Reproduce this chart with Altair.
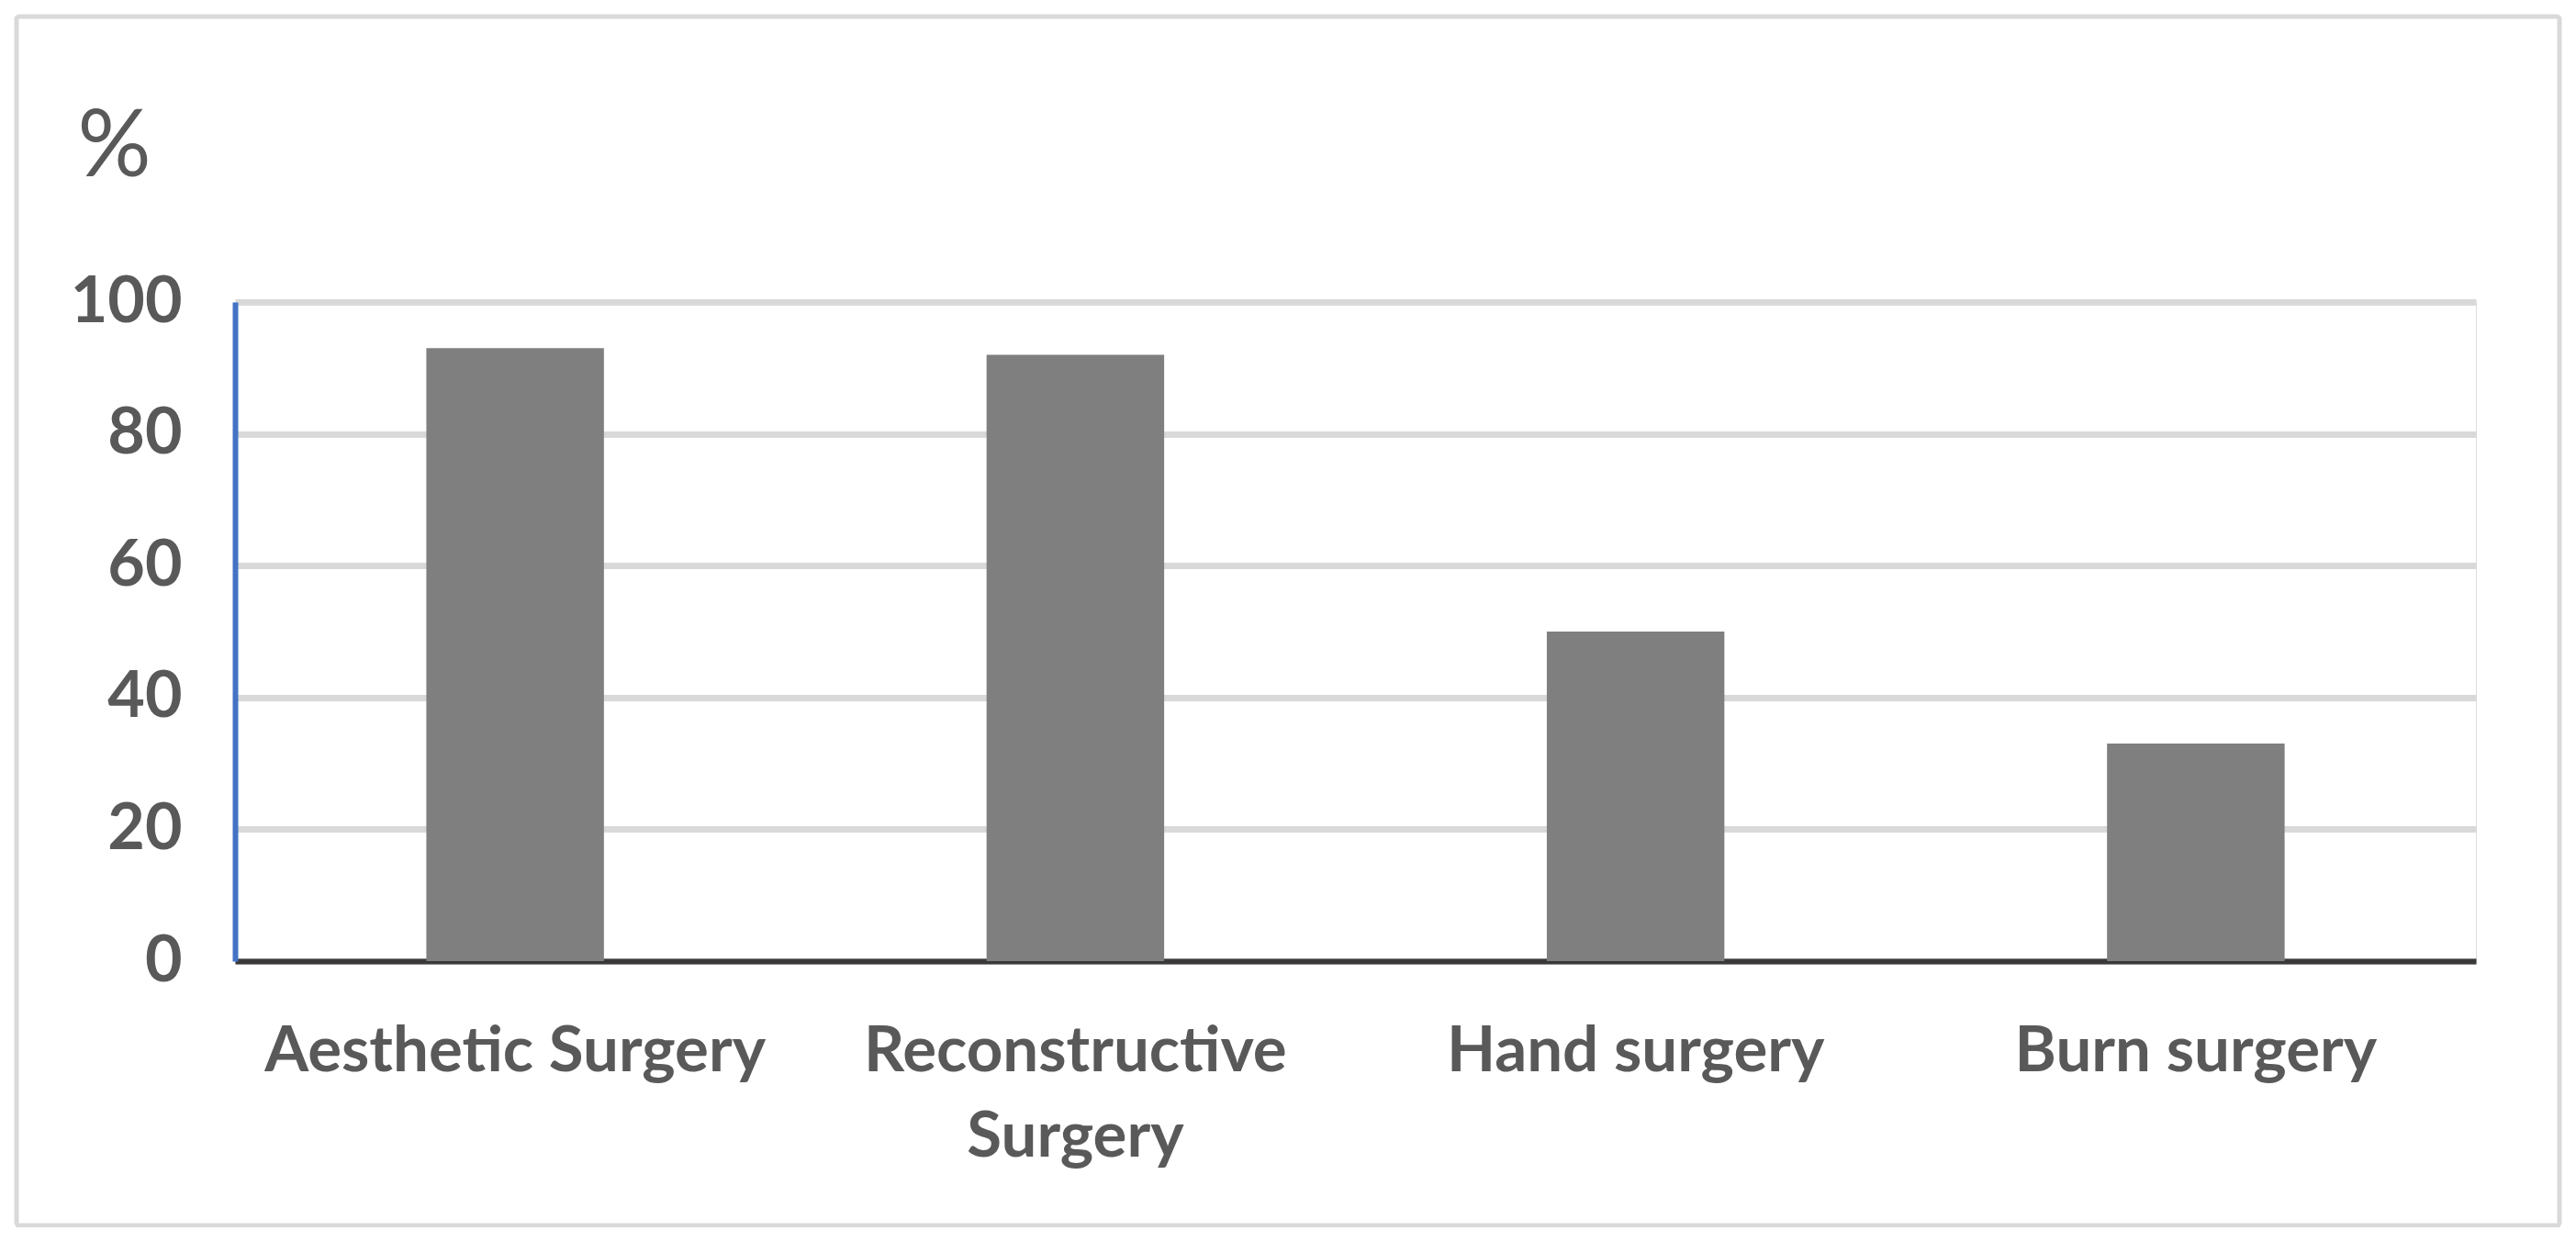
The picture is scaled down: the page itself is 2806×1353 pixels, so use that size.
import altair as alt
import pandas as pd

categories = ["Aesthetic Surgery", "Reconstructive Surgery", "Hand surgery", "Burn surgery"]
values = [93, 92, 50, 33]
y_ticks = [0, 20, 40, 60, 80, 100]

df = pd.DataFrame({"category": categories, "value": values})

FONT = "Lato"
LABEL_COLOR = "#595959"

bars = alt.Chart(df).mark_bar(color="#7f7f7f").encode(
    x=alt.X(
        "category:N",
        sort=categories,
        scale=alt.Scale(paddingInner=0.683, paddingOuter=0.3415),
        axis=alt.Axis(
            title=None,
            labelAngle=0,
            labelFont=FONT,
            labelFontSize=69,
            labelFontWeight="bold",
            labelColor=LABEL_COLOR,
            labelPadding=64,
            labelLineHeight=93,
            labelBaseline="top",
            labelLimit=0,
            labelExpr="datum.label == 'Reconstructive Surgery' ? ['Reconstructive', 'Surgery'] : datum.label",
            ticks=False,
            tickSize=0,
            domainColor="#3a3838",
            domainWidth=6,
            grid=False,
        ),
    ),
    y=alt.Y(
        "value:Q",
        scale=alt.Scale(domain=[0, 100], nice=False),
        axis=alt.Axis(
            title="%",
            titleAngle=0,
            titleAlign="left",
            titleBaseline="alphabetic",
            titleX=-172,
            titleY=-138,
            titleFont=FONT,
            titleFontSize=100,
            titleFontWeight="normal",
            titleColor=LABEL_COLOR,
            values=y_ticks,
            labelFont=FONT,
            labelFontSize=70,
            labelFontWeight="bold",
            labelColor=LABEL_COLOR,
            labelPadding=58,
            ticks=False,
            tickSize=0,
            domainColor="#4472c4",
            domainWidth=6,
            gridColor="#d9d9d9",
            gridWidth=7,
        ),
    ),
)

frame = alt.Chart(pd.DataFrame({"f": [0]})).mark_rect(
    fill=None, stroke="#d9d9d9", strokeWidth=5, cornerRadius=3
).encode(
    x=alt.value(-238), x2=alt.value(2532), y=alt.value(-311), y2=alt.value(1006)
)

chart = alt.layer(frame, bars).properties(
    width=2441,
    height=718,
    autosize=alt.AutoSizeParams(type="none"),
    padding={"left": 248, "top": 321, "right": 101, "bottom": 290},
).configure_view(stroke=None).configure(background="white")

chart.save("out.html", embed_options={"renderer": "svg", "actions": False})
